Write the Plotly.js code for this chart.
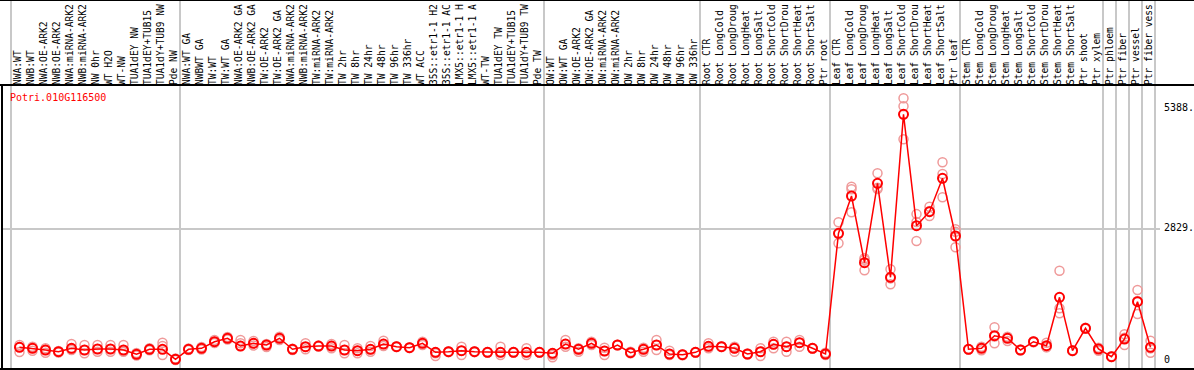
<!DOCTYPE html>
<html>
<head>
<meta charset="utf-8">
<script src="https://cdn.plot.ly/plotly-3.0.1.min.js"></script>
<style>
html,body{margin:0;padding:0;background:#fff;}
#chart{width:1194px;height:370px;}
</style>
</head>
<body>
<div id="chart"></div>
<script>
const geneId = "Potri.010G116500";

// sample labels as far as they are visible in the header band
const categories = [
"NWA:WT","NWB:WT","NWA:OE-ARK2","NWB:OE-ARK2","NWA:miRNA-ARK2","NWB:miRNA-ARK2","NW 0hr","WT H2O","WT-NW","TUA1dEY NW","TUA1dEY+TUB15","TUA1dY+TUB9 NW","Pde NW",
"NWA:WT GA","NWBWT GA","TW:WT","TW:WT GA","NWA:OE-ARK2 GA","NWB:OE-ARK2 GA","TW:OE-ARK2","TW:OE-ARK2 GA","NWA:miRNA-ARK2","NWB:miRNA-ARK2","TW:miRNA-ARK2","TW:miRNA-ARK2",
"TW 2hr","TW 8hr","TW 24hr","TW 48hr","TW 96hr","TW 336hr","WT ACC","35S::etr1-1 H2","35S::etr1-1 AC","LMX5::etr1-1 H","LMX5::etr1-1 A","WT-TW","TUA1dEY TW","TUA1dEY+TUB15","TUA1dY+TUB9 TW","Pde TW",
"OW:WT","OW:WT GA","OW:OE-ARK2","OW:OE-ARK2 GA","OW:miRNA-ARK2","OW:miRNA-ARK2","OW 2hr","OW 8hr","OW 24hr","OW 48hr","OW 96hr","OW 336hr",
"Root CTR","Root LongCold","Root LongDroug","Root LongHeat","Root LongSalt","Root ShortCold","Root ShortDrou","Root ShortHeat","Root ShortSalt","Ptr root",
"Leaf CTR","Leaf LongCold","Leaf LongDroug","Leaf LongHeat","Leaf LongSalt","Leaf ShortCold","Leaf ShortDrou","Leaf ShortHeat","Leaf ShortSalt","Ptr leaf",
"Stem CTR","Stem LongCold","Stem LongDroug","Stem LongHeat","Stem LongSalt","Stem ShortCold","Stem ShortDrou","Stem ShortHeat","Stem ShortSalt","Ptr shoot","Ptr xylem",
"Ptr phloem","Ptr fiber","Ptr vessel","Ptr fiber vess"
];

const meanValues = [294,272,236,199,272,236,257,257,236,144,251,251,36,
251,272,413,487,321,379,343,487,251,306,321,321,
236,221,251,364,306,285,379,186,199,221,199,186,186,186,186,186,
165,364,251,379,214,343,178,251,343,150,135,186,
315,306,272,150,199,358,306,392,272,150,
2737,3536,2107,3808,1794,5287,2900,3200,3916,2679,
251,272,542,487,236,413,328,1365,221,701,257,
92,471,1271,294];

const rep1 = [343,306,272,214,364,343,343,343,343,171,272,392,54,
268,300,450,514,450,429,364,521,264,379,330,364,
343,272,321,435,315,295,413,165,210,306,210,195,306,195,272,195,
129,450,272,413,285,350,199,285,450,221,145,195,
379,315,306,160,272,413,413,450,280,178,
2972,3735,2201,4022,1965,5630,3148,3307,4258,2822,
258,306,722,521,245,425,392,1935,230,715,221,
100,572,1522,435];

const rep2 = [193,221,178,182,236,165,199,199,199,118,229,321,21,
236,246,386,461,379,379,343,487,236,251,310,272,
165,165,199,321,300,280,343,107,190,129,190,178,129,178,129,178,
79,306,199,343,129,335,165,199,236,129,125,178,
272,298,199,140,107,272,199,306,262,129,
2522,3680,1944,3686,1644,5458,2572,3214,4007,2771,
245,280,379,429,228,400,294,1129,212,690,265,
85,343,1007,178];

const rep3 = [300,279,236,199,257,236,257,257,236,144,251,129,36,
251,272,413,487,321,330,300,450,257,300,321,321,
236,221,251,364,306,285,379,186,199,221,199,186,186,186,186,186,
165,364,251,379,214,343,178,251,343,150,135,186,
315,306,272,150,199,358,306,392,272,150,
2720,3187,2170,3715,1770,4751,2980,3107,3508,2437,
251,230,525,510,236,413,300,1022,221,701,285,
92,497,1285,270];

const groupBoundaries = [0,13,41,53,63,73,84,85,86,87,88];
const yTickValues = [0,2829,5388];
const yTickText = ["0","2829.","5388."];
const gridYValues = [2829];

const idx = categories.map((c,i)=>i+1);
const repX = [], repY = [];
[rep1,rep2,rep3].forEach(r=>{ r.forEach((v,i)=>{ repX.push(i+1); repY.push(v); }); });

const W = 1194, H = 370;
const ml = 2, mr = 34, mt = 0, mb = 1;
const plotW = W - ml - mr, plotH = H - mt - mb;
const step = 13;
const xData = [(ml - 6.5)/step, (ml + plotW - 6.5)/step];
const xLab = [(ml - 4.5)/step, (ml + plotW - 4.5)/step];
const zeroPx = 361, pxPerUnit = 0.04666;
const yRange = [-(mt + plotH - zeroPx)/pxPerUnit, (zeroPx - mt)/pxPerUnit];
const headerPx = 85;
const headerPos = (mt + plotH - headerPx)/plotH;

const mono = "DejaVu Sans Mono, Liberation Mono, monospace";

const traces = [
  {x: [], y: [], type: 'scatter', mode: 'markers', xaxis: 'x2', yaxis: 'y', hoverinfo: 'skip', showlegend: false},
  {x: [], y: [], type: 'scatter', mode: 'markers', xaxis: 'x3', yaxis: 'y2', hoverinfo: 'skip', showlegend: false},
  {x: repX, y: repY, type: 'scatter', mode: 'markers', hoverinfo: 'skip',
   marker: {symbol: 'circle-open', size: 9, color: '#ef9a9a', line: {width: 1.5, color: '#ef9a9a'}},
   showlegend: false},
  {x: idx, y: meanValues, type: 'scatter', mode: 'lines+markers',
   line: {color: '#ff0000', width: 1.5},
   marker: {symbol: 'circle-open', size: 9, color: '#ff0000', line: {width: 2, color: '#ff0000'}},
   showlegend: false}
];

const layout = {
  width: W, height: H,
  margin: {l: ml, r: mr, t: mt, b: mb, pad: 0},
  paper_bgcolor: '#ffffff', plot_bgcolor: '#ffffff',
  showlegend: false,
  font: {family: mono, size: 10, color: '#000'},
  xaxis: {range: xData, showgrid: false, zeroline: false, showticklabels: false, ticks: '', showline: false},
  xaxis2: {overlaying: 'x', anchor: 'free', position: headerPos, side: 'top', range: xLab,
    tickmode: 'array', tickvals: idx, ticktext: categories, tickangle: -90,
    ticks: '', showgrid: false, zeroline: false, showline: false,
    tickfont: {family: mono, size: 9.6, color: '#000'}, ticklabelstandoff: 0},
  xaxis3: {overlaying: 'x', anchor: 'y2', range: xLab, tickmode: 'array', tickvals: groupBoundaries.map(b=>b+0.5),
    showgrid: true, gridcolor: '#c8c8c8', gridwidth: 2, showticklabels: false, ticks: '', zeroline: false, showline: false},
  yaxis: {range: yRange, side: 'right', tickmode: 'array', tickvals: yTickValues, ticktext: yTickText,
    showgrid: false, zeroline: false, ticks: '', showline: false, ticklabelstandoff: 3, ticklabelshift: -2,
    tickfont: {family: mono, size: 10, color: '#000'}},
  yaxis2: {overlaying: 'y', anchor: 'x3', range: yRange, tickmode: 'array', tickvals: gridYValues, showticklabels: false,
    showgrid: true, gridcolor: '#c8c8c8', gridwidth: 2, zeroline: false, ticks: '', showline: false},
  shapes: [
    {type: 'line', xref: 'paper', yref: 'paper', x0: -0.01, x1: 1.05, y0: headerPos, y1: headerPos, line: {color: '#000', width: 2}},
    {type: 'line', xref: 'paper', yref: 'paper', x0: -0.01, x1: 1.05, y0: 0, y1: 0, line: {color: '#000', width: 2}},
    {type: 'line', xref: 'paper', yref: 'paper', x0: -0.01, x1: 1.05, y0: 1, y1: 1, line: {color: '#000', width: 2}},
    {type: 'line', xref: 'paper', yref: 'paper', x0: 0, x1: 0, y0: 0, y1: headerPos, line: {color: '#000', width: 2}}
  ],
  annotations: [
    {text: geneId, xref: 'paper', yref: 'paper', x: (8 - ml)/plotW, y: (mt + plotH - 97)/plotH,
     xanchor: 'left', yanchor: 'middle', showarrow: false, font: {family: mono, size: 10, color: '#ff0000'}}
  ]
};

Plotly.newPlot('chart', traces, layout, {staticPlot: true, displayModeBar: false});
</script>
</body>
</html>
